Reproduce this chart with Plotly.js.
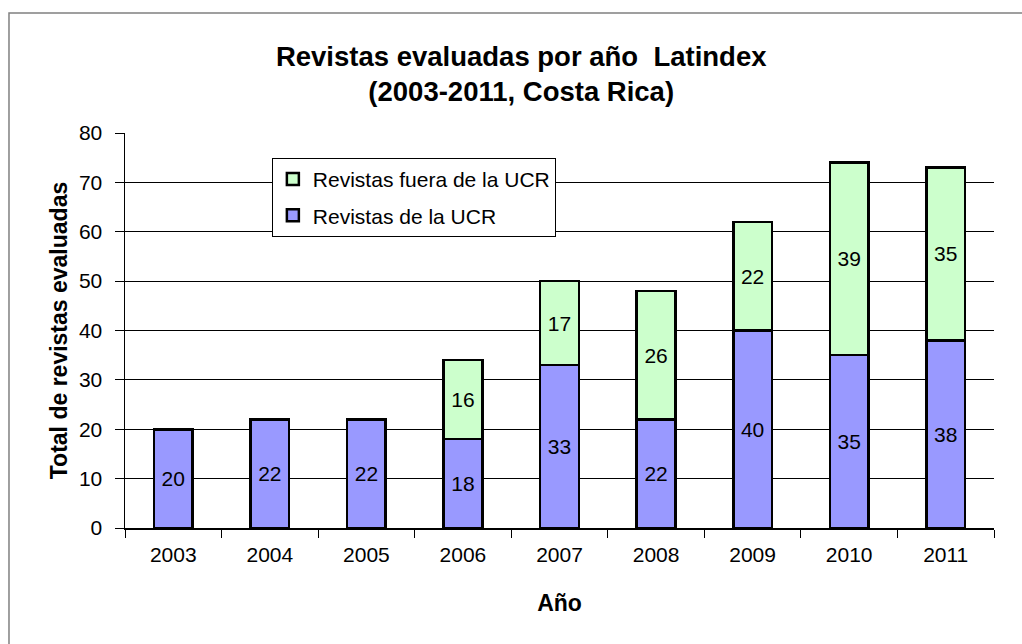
<!DOCTYPE html>
<html>
<head>
<meta charset="utf-8">
<script src="https://cdn.plot.ly/plotly-3.0.1.min.js"></script>
<style>html,body{margin:0;padding:0;background:#fff;}#chart{width:1022px;height:644px;}</style>
</head>
<body>
<div id="chart"></div>
<script>
const years = ['2003','2004','2005','2006','2007','2008','2009','2010','2011'];
const ucr = [20,22,22,18,33,22,40,35,38];
const fuera = [null,null,null,16,17,26,22,39,35];
const yTicks = [0,10,20,30,40,50,60,70,80];

const txtFont = {family:'Liberation Sans, Arial, sans-serif', size:21, color:'#000'};
const traces = [
  {type:'bar', name:'Revistas de la UCR', legendgroup:'a', legendrank:2, x:years, y:ucr,
   text:ucr.map(v=>v==null?'':String(v)), textposition:'inside', insidetextanchor:'middle',
   textfont:txtFont, constraintext:'none',
   marker:{color:'#9999FF', line:{color:'#000', width:2.5}}, hoverinfo:'none'},
  {type:'bar', name:'Revistas fuera de la UCR', legendgroup:'b', legendrank:1, x:years, y:fuera,
   text:fuera.map(v=>v==null?'':String(v)), textposition:'inside', insidetextanchor:'middle',
   textfont:txtFont, constraintext:'none',
   marker:{color:'#CCFFCC', line:{color:'#000', width:2.5}}, hoverinfo:'none'}
];

const layout = {
  width:1022, height:644,
  margin:{l:125, r:28, t:133, b:116},
  paper_bgcolor:'#fff', plot_bgcolor:'#fff',
  barmode:'stack', bargap:0.6,
  font:{family:'Liberation Sans, Arial, sans-serif', size:21, color:'#000'},
  title:{text:'<b>Revistas evaluadas por año  Latindex<br>(2003-2011, Costa Rica)</b>',
         font:{size:27.5, color:'#000'}, x:0.51, xanchor:'center', y:0.898, yanchor:'top', yref:'container'},
  xaxis:{type:'category', showgrid:false, showline:true, linecolor:'#000', linewidth:1.5,
         ticks:'outside', ticklen:8, tickcolor:'#000', tickson:'boundaries', ticklabelstandoff:7,
         tickfont:{size:21}, title:{text:'<b>Año</b>', font:{size:23}, standoff:30}},
  yaxis:{range:[0,80], tickvals:yTicks, showgrid:true, gridcolor:'#000', gridwidth:1,
         showline:true, linecolor:'#000', linewidth:1.5, ticks:'outside', ticklen:9, tickcolor:'#000',
         ticklabelstandoff:8, tickfont:{size:21}, zeroline:false,
         title:{text:'<b>Total de revistas evaluadas</b>', font:{size:23}, standoff:5}},
  legend:{x:0.169, y:0.937, xanchor:'left', yanchor:'top', bgcolor:'#fff',
          bordercolor:'#000', borderwidth:1, traceorder:'grouped', tracegroupgap:6,
          font:{size:21}},
  shapes:[{type:'rect', xref:'paper', yref:'paper', x0:-0.1335, x1:1.2, y0:-0.5, y1:1.3038,
           line:{color:'#808080', width:1.5}, layer:'below'}]
};

Plotly.newPlot('chart', traces, layout, {displayModeBar:false, staticPlot:true});
</script>
</body>
</html>
